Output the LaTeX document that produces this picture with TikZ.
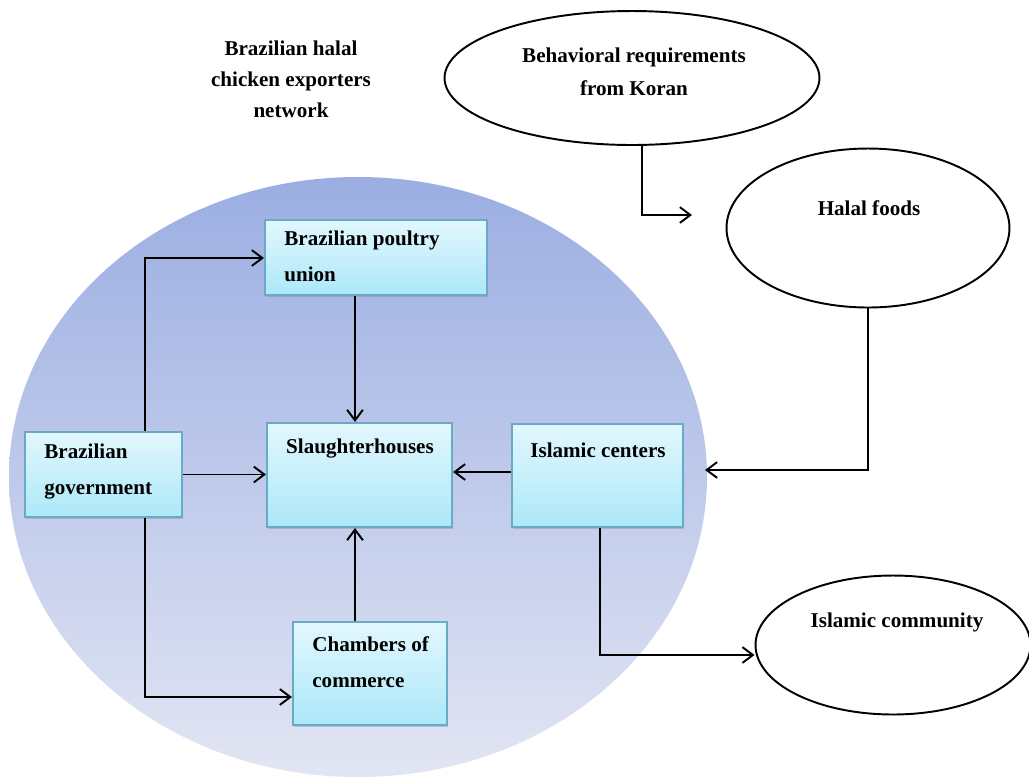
\documentclass[tikz,border=0pt]{standalone}
\usepackage{fontspec}
\setmainfont{Liberation Serif}
\usetikzlibrary{arrows.meta,shapes.geometric,shadows}
\definecolor{boxtop}{RGB}{226,247,253}
\definecolor{boxbot}{RGB}{172,232,249}
\definecolor{boxline}{RGB}{105,170,198}
\definecolor{circtop}{RGB}{155,174,226}
\definecolor{circbot}{RGB}{226,229,243}
\tikzset{
  box/.style={draw=boxline, line width=1.2pt, top color=boxtop, bottom color=boxbot,
    drop shadow={shadow xshift=0.6pt, shadow yshift=-0.9pt, opacity=0.35}},
  oval/.style={ellipse, draw=black, line width=1.1pt, fill=white},
  lbl/.style={inner sep=0pt, font=\fontsize{12}{20.4}\selectfont\bfseries, align=left},
  clbl/.style={inner sep=0pt, font=\fontsize{12}{18.5}\selectfont\bfseries, align=center},
  conn/.style={draw=black, line width=1.1pt, -{Straight Barb[length=6pt,width=9pt,line width=1.1pt]}},
}
\begin{document}
\begin{tikzpicture}[x=0.02cm,y=-0.02cm]
\useasboundingbox (0,0) rectangle (1029,779);
\fill[white] (0,0) rectangle (1029,779);
% big background ellipse
\shade[top color=circtop, bottom color=circbot] (358,477) ellipse [x radius=349, y radius=300];

% title
\node[clbl, font=\fontsize{12}{17.6}\selectfont\bfseries] (title) at (291,79) {Brazilian halal\\chicken exporters\\network};

% ovals
\node[oval, minimum width=7.5cm, minimum height=2.68cm] (beh) at (632,78) {};
\node[clbl] (behtxt) at (634,72) {Behavioral requirements\\from Koran};
\node[oval, minimum width=5.66cm, minimum height=3.18cm] (halal) at (868,228) {};
\node[clbl] (halaltxt) at (869,208) {Halal foods};
\node[oval, minimum width=5.5cm, minimum height=2.78cm] (icom) at (893,645) {};
\node[clbl] (icomtxt) at (897,622) {Islamic community};

% boxes
\node[box, minimum width=4.44cm, minimum height=1.5cm] (pu) at (376,257.5) {};
\node[lbl, anchor=north west] (putxt) at (284,231) {Brazilian poultry\\union};
\node[box, minimum width=3.7cm, minimum height=2.08cm] (sl) at (359.5,475) {};
\node[lbl, anchor=north] (sltxt) at (360,439) {Slaughterhouses};
\node[box, minimum width=3.14cm, minimum height=1.7cm] (gov) at (103.5,474.5) {};
\node[lbl, anchor=north west] (govtxt) at (44,444) {Brazilian\\government};
\node[box, minimum width=3.42cm, minimum height=2.06cm] (ic) at (597.5,475.5) {};
\node[lbl, anchor=north west] (ictxt) at (530,443) {Islamic centers};
\node[box, minimum width=3.08cm, minimum height=2.06cm] (cc) at (370,673.5) {};
\node[lbl, anchor=north west] (cctxt) at (312,636) {Chambers of\\commerce};

% free ends
\coordinate (hend) at (705,470);
\coordinate (bend) at (692,215);

% connectors
\draw[conn] (gov.north -| 145,0) |- (pu.west |- 0,258);
\draw[conn] (gov.east) -- (sl.west |- gov.east);
\draw[conn] (gov.south -| 145,0) |- (cc.west |- 0,697);
\draw[conn] (pu.south -| 355,0) -- (sl.north -| 355,0);
\draw[conn] (cc.north -| 355,0) -- (sl.south -| 355,0);
\draw[conn] (ic.west |- 0,472) -- (sl.east |- 0,472);
\draw[conn] (halal.south) |- (hend);
\draw[conn] (beh.-82) |- (bend);
\draw[conn] (ic.south -| 600,0) |- (icom.west |- 0,655);
\end{tikzpicture}
\end{document}
